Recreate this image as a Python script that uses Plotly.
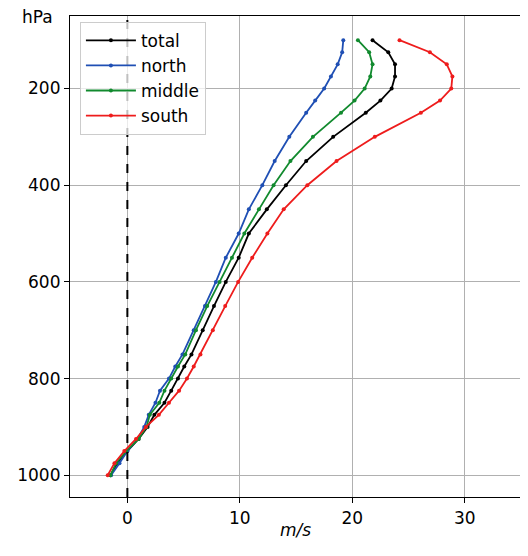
import plotly.graph_objects as go

levels = [100, 125, 150, 175, 200, 225, 250, 300, 350, 400, 450, 500, 550, 600,
          650, 700, 750, 775, 800, 825, 850, 875, 900, 925, 950, 975, 1000]

total = [21.8, 23.2, 23.8, 23.8, 23.5, 22.5, 21.2, 18.3, 15.9, 14.1, 12.4, 10.8, 9.9, 8.75,
         7.7, 6.7, 5.7, 5.06, 4.5, 3.9, 3.3, 2.4, 1.8, 1.0, 0.0, -0.9, -1.5]
north = [19.2, 19.1, 18.7, 18.1, 17.5, 16.7, 15.9, 14.4, 13.1, 12.0, 10.8, 9.9, 8.75, 7.87,
         6.9, 5.9, 4.9, 4.26, 3.7, 2.9, 2.5, 1.9, 1.5, 0.9, 0.0, -0.7, -1.45]
middle = [20.5, 21.5, 21.8, 21.6, 21.1, 20.2, 19.0, 16.5, 14.5, 13.0, 11.7, 10.4, 9.3, 8.2,
          7.1, 6.1, 5.15, 4.5, 3.9, 3.3, 2.84, 2.0, 1.7, 1.0, -0.1, -1.0, -1.5]
south = [24.2, 26.9, 28.4, 28.9, 28.8, 27.8, 26.1, 22.0, 18.6, 16.0, 13.9, 12.45, 11.1, 9.85,
         8.7, 7.6, 6.5, 5.9, 5.3, 4.6, 3.7, 2.8, 1.65, 0.77, -0.27, -1.15, -1.75]

series_names = ["total", "north", "middle", "south"]
series_values = [total, north, middle, south]
series_colors = ["#000000", "#1f4fb4", "#118a2e", "#ee1c1c"]

x_ticks = [0, 10, 20, 30]
y_ticks = [200, 400, 600, 800, 1000]

FONT = "DejaVu Sans"

fig = go.Figure()
for name, vals, col in zip(series_names, series_values, series_colors):
    fig.add_trace(go.Scatter(
        x=vals, y=levels, name=name, mode="lines+markers",
        line=dict(color=col, width=1.8),
        marker=dict(color=col, size=4),
    ))

fig.add_shape(type="line", xref="x", yref="paper", x0=0, x1=0, y0=0, y1=1,
              line=dict(color="black", width=2, dash="dash"), layer="above")

fig.add_annotation(text="hPa", xref="paper", yref="paper", x=-0.073, y=0.998,
                   xanchor="center", yanchor="middle", showarrow=False,
                   font=dict(size=17, color="black", family=FONT))
fig.add_annotation(text="<i>m/s</i>", xref="paper", yref="paper", x=0.5, y=-0.069,
                   xanchor="center", yanchor="middle", showarrow=False,
                   font=dict(size=17, color="black", family=FONT))

fig.update_layout(
    width=520, height=548,
    margin=dict(l=62, r=7, t=8, b=59, autoexpand=False),
    paper_bgcolor="white", plot_bgcolor="white",
    font=dict(family=FONT, size=17, color="black"),
    showlegend=True,
    legend=dict(x=0.022, y=0.988, xanchor="left", yanchor="top",
                bgcolor="rgba(255,255,255,0.75)", bordercolor="#cccccc", borderwidth=1,
                font=dict(size=17, family=FONT), tracegroupgap=0,
                itemwidth=50),
)
fig.update_xaxes(range=[-5.1, 35], tickvals=x_ticks, ticktext=[str(t) for t in x_ticks],
                 showgrid=True, gridcolor="#b0b0b0", gridwidth=1, automargin=False,
                 showline=True, linecolor="black", linewidth=1.2, mirror=True,
                 ticks="outside", ticklen=5, tickcolor="black", zeroline=False)
fig.update_yaxes(range=[1045, 50], tickvals=y_ticks, ticktext=[str(t) for t in y_ticks],
                 showgrid=True, gridcolor="#b0b0b0", gridwidth=1, automargin=False,
                 showline=True, linecolor="black", linewidth=1.2, mirror=True,
                 ticks="outside", ticklen=5, tickcolor="black", zeroline=False)

fig.write_html("out.html")
